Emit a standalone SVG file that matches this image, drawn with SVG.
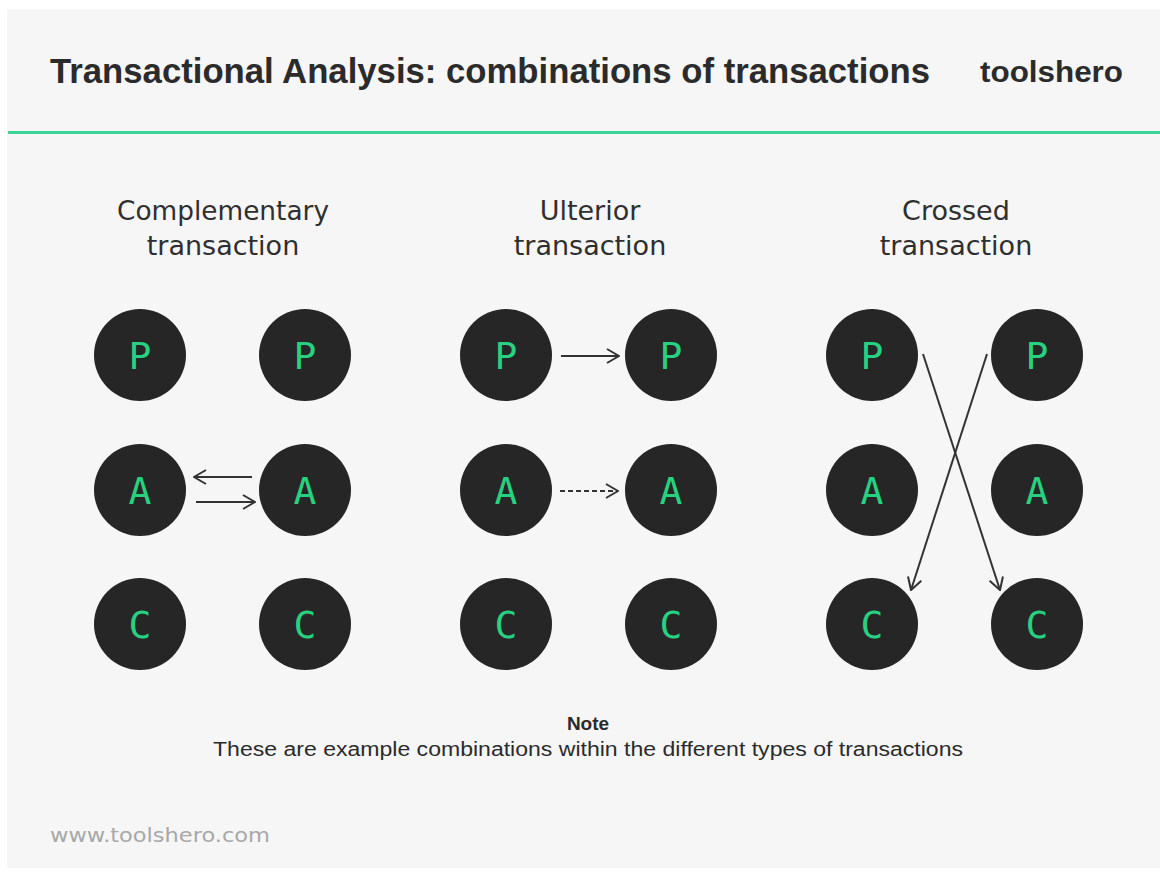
<svg xmlns="http://www.w3.org/2000/svg" width="1160" height="873" viewBox="0 0 1160 873">
  <style>
    .title { font-family: "Liberation Sans", "DejaVu Sans", sans-serif; font-weight: bold; fill: #2b2b2b; }
    .head { font-family: "DejaVu Sans", "Liberation Sans", sans-serif; font-size: 27px; fill: #2f2f2f; text-anchor: middle; }
    .node circle { fill: #262626; }
    .node text { font-family: "DejaVu Sans Mono", "Liberation Mono", monospace; font-size: 38px; fill: #27d17f; text-anchor: middle; }
    .link { stroke: #333; stroke-width: 2; fill: none; }
    .dash { stroke-dasharray: 5 3; }
    .note { font-family: "Liberation Sans", "DejaVu Sans", sans-serif; fill: #2b2b2b; text-anchor: middle; }
  </style>
  <defs>
    <marker id="arrow" viewBox="0 0 14 16" refX="13" refY="8" markerWidth="14" markerHeight="16" markerUnits="userSpaceOnUse" orient="auto">
      <path d="M1 1 L13 8 L1 15" fill="none" stroke="#333" stroke-width="2"/>
    </marker>
  </defs>

  <!-- page and panel -->
  <rect x="0" y="0" width="1160" height="873" fill="#ffffff"/>
  <rect x="7" y="9" width="1153" height="859" fill="#f6f6f6"/>
  <rect x="8" y="131" width="1152" height="3" fill="#3cd597"/>

  <!-- header -->
  <text class="title" x="50" y="83" font-size="35" textLength="880" lengthAdjust="spacingAndGlyphs">Transactional Analysis: combinations of transactions</text>
  <text class="title" x="980" y="82" font-size="30" textLength="143" lengthAdjust="spacingAndGlyphs">toolshero</text>

  <!-- column headings -->
  <text class="head" x="223" y="220" textLength="212" lengthAdjust="spacingAndGlyphs">Complementary</text>
  <text class="head" x="223" y="255">transaction</text>
  <text class="head" x="590" y="220">Ulterior</text>
  <text class="head" x="590" y="255">transaction</text>
  <text class="head" x="956" y="220">Crossed</text>
  <text class="head" x="956" y="255">transaction</text>

  <!-- complementary transaction -->
  <g id="comp-p1" class="node"><circle cx="140" cy="355" r="46"/><text x="140" y="369">P</text></g>
  <g id="comp-p2" class="node"><circle cx="305" cy="355" r="46"/><text x="305" y="369">P</text></g>
  <g id="comp-a1" class="node"><circle cx="140" cy="490" r="46"/><text x="140" y="504">A</text></g>
  <g id="comp-a2" class="node"><circle cx="305" cy="490" r="46"/><text x="305" y="504">A</text></g>
  <g id="comp-c1" class="node"><circle cx="140" cy="624" r="46"/><text x="140" y="638">C</text></g>
  <g id="comp-c2" class="node"><circle cx="305" cy="624" r="46"/><text x="305" y="638">C</text></g>

  <!-- ulterior transaction -->
  <g id="ult-p1" class="node"><circle cx="506" cy="355" r="46"/><text x="506" y="369">P</text></g>
  <g id="ult-p2" class="node"><circle cx="671" cy="355" r="46"/><text x="671" y="369">P</text></g>
  <g id="ult-a1" class="node"><circle cx="506" cy="490" r="46"/><text x="506" y="504">A</text></g>
  <g id="ult-a2" class="node"><circle cx="671" cy="490" r="46"/><text x="671" y="504">A</text></g>
  <g id="ult-c1" class="node"><circle cx="506" cy="624" r="46"/><text x="506" y="638">C</text></g>
  <g id="ult-c2" class="node"><circle cx="671" cy="624" r="46"/><text x="671" y="638">C</text></g>

  <!-- crossed transaction -->
  <g id="cross-p1" class="node"><circle cx="872" cy="355" r="46"/><text x="872" y="369">P</text></g>
  <g id="cross-p2" class="node"><circle cx="1037" cy="355" r="46"/><text x="1037" y="369">P</text></g>
  <g id="cross-a1" class="node"><circle cx="872" cy="490" r="46"/><text x="872" y="504">A</text></g>
  <g id="cross-a2" class="node"><circle cx="1037" cy="490" r="46"/><text x="1037" y="504">A</text></g>
  <g id="cross-c1" class="node"><circle cx="872" cy="624" r="46"/><text x="872" y="638">C</text></g>
  <g id="cross-c2" class="node"><circle cx="1037" cy="624" r="46"/><text x="1037" y="638">C</text></g>

  <!-- connectors -->
  <g id="connectors">
    <line class="link" x1="252" y1="477" x2="194" y2="477" marker-end="url(#arrow)"/>
    <line class="link" x1="196" y1="502" x2="255" y2="502" marker-end="url(#arrow)"/>
    <line class="link" x1="561" y1="356" x2="619" y2="356" marker-end="url(#arrow)"/>
    <line class="link dash" x1="560" y1="491" x2="618" y2="491" marker-end="url(#arrow)"/>
    <line class="link" x1="923" y1="354" x2="1000" y2="590" marker-end="url(#arrow)"/>
    <line class="link" x1="987" y1="354" x2="911" y2="590" marker-end="url(#arrow)"/>
  </g>

  <!-- note -->
  <text class="note" x="588" y="730" font-size="19" font-weight="bold">Note</text>
  <text class="note" x="588" y="756" font-size="20" textLength="750" lengthAdjust="spacingAndGlyphs">These are example combinations within the different types of transactions</text>

  <!-- footer -->
  <text x="50" y="842" font-family="DejaVu Sans, Liberation Sans, sans-serif" font-size="20" fill="#a8a8a8" textLength="220" lengthAdjust="spacingAndGlyphs">www.toolshero.com</text>
</svg>
